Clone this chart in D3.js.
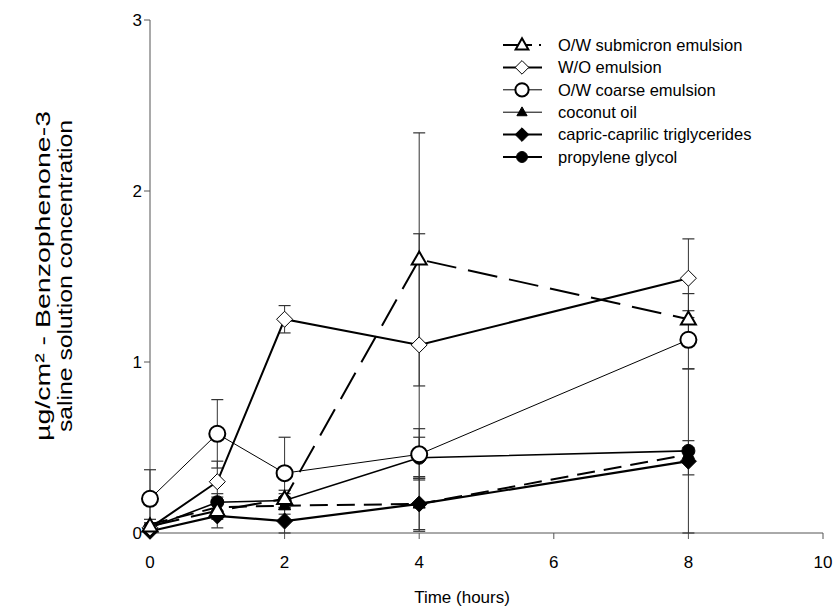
<!DOCTYPE html>
<html>
<head>
<meta charset="utf-8">
<script src="https://cdn.jsdelivr.net/npm/d3@7"></script>
<style>
  body { margin: 0; background: #fff; }
  svg { font-family: Arial, "Liberation Sans", sans-serif; }
</style>
</head>
<body>
<svg id="chart" width="835" height="611"></svg>
<script>
// Datos
const times = [0, 1, 2, 4, 8];
const seriesNames = ["O/W submicron emulsion", "W/O emulsion", "O/W coarse emulsion",
  "coconut oil", "capric-caprilic triglycerides", "propylene glycol"];

const submicron = [0.04, 0.13, 0.20, 1.60, 1.25];
const submicronErr = [0.02, 0.05, 0.05, 0.74, 0.15];
const woEmulsion = [0.03, 0.30, 1.25, 1.10, 1.49];
const woEmulsionErr = [0.02, 0.12, 0.08, 0.65, 0.23];
const coarse = [0.20, 0.58, 0.35, 0.46, 1.13];
const coarseErr = [0.17, 0.20, 0.21, 0.15, 0.17];
const coconut = [0.05, 0.15, 0.16, 0.17, 0.46];
const coconutErr = [0.03, 0.06, 0.05, 0.15, 0.50];
const capric = [0.01, 0.10, 0.07, 0.17, 0.42];
const capricErr = [0.01, 0.07, 0.07, 0.16, 0.08];
const propylene = [0.03, 0.18, 0.19, 0.44, 0.48];
const propyleneErr = [0.02, 0.05, 0.04, 0.12, 0.06];

const xTicks = [0, 2, 4, 6, 8, 10];
const yTicks = [0, 1, 2, 3];

const svg = d3.select("#chart");

const x = d3.scaleLinear().domain([0, 10]).range([150, 823]);
const y = d3.scaleLinear().domain([0, 3]).range([533, 20]);

// estilo de cada serie
const styles = [
  { values: submicron, err: submicronErr, width: 2, dash: "30,12", symbol: "triangle", fill: "#fff", size: 15, mstroke: 2 },
  { values: woEmulsion, err: woEmulsionErr, width: 2, dash: null, symbol: "diamond", fill: "#fff", size: 16, mstroke: 1 },
  { values: coarse, err: coarseErr, width: 1, dash: null, symbol: "circle", fill: "#fff", size: 18, mstroke: 2 },
  { values: coconut, err: coconutErr, width: 2, dash: "18,9", symbol: "triangle", fill: "#000", size: 12, mstroke: 1 },
  { values: capric, err: capricErr, width: 2.2, dash: null, symbol: "diamond", fill: "#000", size: 16, mstroke: 1 },
  { values: propylene, err: propyleneErr, width: 1.6, dash: null, symbol: "circle", fill: "#000", size: 14, mstroke: 1 }
];

function drawMarker(g, st, cx, cy, scale) {
  const s = st.size * scale;
  let m;
  if (st.symbol === "circle") {
    m = g.append("circle").attr("cx", cx).attr("cy", cy).attr("r", s / 2 - st.mstroke / 2);
  } else if (st.symbol === "triangle") {
    const h = s * 0.87;
    m = g.append("path")
      .attr("d", `M${cx},${cy - h * 0.6}L${cx + s / 2},${cy + h * 0.4}L${cx - s / 2},${cy + h * 0.4}Z`);
  } else {
    const r = s / 2;
    m = g.append("path")
      .attr("d", `M${cx},${cy - r}L${cx + r},${cy}L${cx},${cy + r}L${cx - r},${cy}Z`);
  }
  m.attr("fill", st.fill).attr("stroke", "#000").attr("stroke-width", st.mstroke);
}

// ejes
const axisColor = "#555";
svg.append("line").attr("x1", x(0)).attr("x2", x(0)).attr("y1", y(3)).attr("y2", y(0))
  .attr("stroke", axisColor).attr("stroke-width", 1);
svg.append("line").attr("x1", x(0)).attr("x2", x(10)).attr("y1", y(0)).attr("y2", y(0))
  .attr("stroke", axisColor).attr("stroke-width", 1);

yTicks.forEach(t => {
  svg.append("line").attr("x1", x(0) - 6).attr("x2", x(0)).attr("y1", y(t)).attr("y2", y(t))
    .attr("stroke", axisColor);
  svg.append("text").attr("x", x(0) - 8).attr("y", y(t)).attr("dy", "0.35em")
    .attr("text-anchor", "end").attr("font-size", 17).text(t);
});
xTicks.forEach(t => {
  svg.append("line").attr("x1", x(t)).attr("x2", x(t)).attr("y1", y(0)).attr("y2", y(0) + 6)
    .attr("stroke", axisColor);
  svg.append("text").attr("x", x(t)).attr("y", 568)
    .attr("text-anchor", "middle").attr("font-size", 17).text(t);
});

svg.append("text").attr("x", 462).attr("y", 603).attr("text-anchor", "middle")
  .attr("font-size", 17).text("Time (hours)");

const yl = svg.append("text").attr("transform", "translate(50,276) rotate(-90)")
  .attr("text-anchor", "middle").attr("font-size", 20);
yl.append("tspan").attr("x", 0).attr("y", 0)
  .attr("textLength", 330).attr("lengthAdjust", "spacingAndGlyphs").text("µg/cm² - Benzophenone-3");
yl.append("tspan").attr("x", 0).attr("y", 22)
  .attr("textLength", 312).attr("lengthAdjust", "spacingAndGlyphs").text("saline solution concentration");

// barras de error
const errG = svg.append("g");
styles.forEach(st => {
  times.forEach((t, i) => {
    const lo = Math.max(0, st.values[i] - st.err[i]);
    const hi = st.values[i] + st.err[i];
    errG.append("line").attr("x1", x(t)).attr("x2", x(t)).attr("y1", y(hi)).attr("y2", y(lo))
      .attr("stroke", "#333").attr("stroke-width", 1);
    [hi, lo].forEach(v => {
      errG.append("line").attr("x1", x(t) - 6).attr("x2", x(t) + 6).attr("y1", y(v)).attr("y2", y(v))
        .attr("stroke", "#333").attr("stroke-width", 1.2);
    });
  });
});

// lineas
const line = d3.line().x((d, i) => x(times[i])).y(d => y(d));
styles.forEach(st => {
  svg.append("path").datum(st.values).attr("d", line)
    .attr("fill", "none").attr("stroke", "#000").attr("stroke-width", st.width)
    .attr("stroke-dasharray", st.dash);
});

// marcadores
const markG = svg.append("g");
styles.slice().reverse().forEach(st => {
  times.forEach((t, i) => drawMarker(markG, st, x(t), y(st.values[i]), 1));
});

// leyenda
const leg = svg.append("g");
seriesNames.forEach((name, i) => {
  const st = styles[i];
  const ly = 45 + i * 22.4;
  leg.append("line").attr("x1", 503).attr("x2", i === 0 ? 532 : 542).attr("y1", ly).attr("y2", ly)
    .attr("stroke", "#000").attr("stroke-width", i === 2 || i === 3 ? 1 : 2);
  if (i === 0) {
    leg.append("rect").attr("x", 539).attr("y", ly - 1).attr("width", 2).attr("height", 2).attr("fill", "#000");
  }
  drawMarker(leg, st, 522, ly, 0.85);
  leg.append("text").attr("x", 558).attr("y", ly).attr("dy", "0.35em")
    .attr("font-size", 16.5).text(name);
});
</script>
</body>
</html>
